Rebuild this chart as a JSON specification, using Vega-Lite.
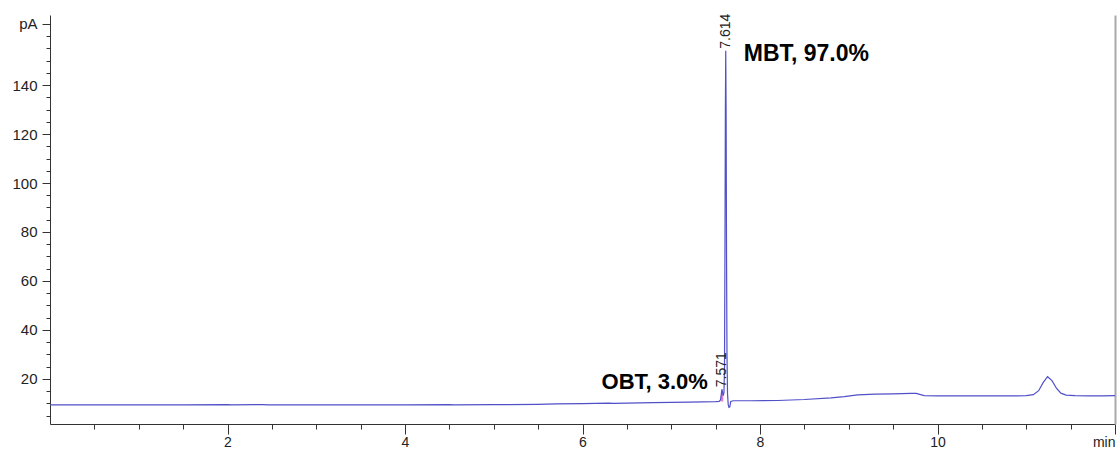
{
  "$schema": "https://vega.github.io/schema/vega-lite/v6.json",
  "width": 1065,
  "height": 409,
  "autosize": {"type": "none"},
  "padding": {"top": 15, "left": 50, "right": 3, "bottom": 26},
  "background": "white",
  "config": {
    "view": {"stroke": null},
    "font": "Liberation Sans",
    "axis": {"grid": false, "domainColor": "#333", "tickColor": "#333", "labelColor": "#222", "labelFont": "Liberation Sans", "domainWidth": 1, "tickWidth": 1}
  },
  "datasets": {
    "trace": [
      {"time": 0.0, "signal": 9.4}, {"time": 0.5, "signal": 9.4}, {"time": 1.0, "signal": 9.4}, {"time": 1.5, "signal": 9.4},
      {"time": 2.0, "signal": 9.5}, {"time": 2.05, "signal": 9.4}, {"time": 2.4, "signal": 9.5}, {"time": 2.45, "signal": 9.4},
      {"time": 3.0, "signal": 9.4}, {"time": 3.5, "signal": 9.4}, {"time": 4.0, "signal": 9.4}, {"time": 4.5, "signal": 9.5},
      {"time": 4.55, "signal": 9.4}, {"time": 5.0, "signal": 9.5}, {"time": 5.5, "signal": 9.6}, {"time": 5.7, "signal": 9.8},
      {"time": 6.0, "signal": 9.9}, {"time": 6.3, "signal": 10.1}, {"time": 6.35, "signal": 10.0}, {"time": 6.8, "signal": 10.3},
      {"time": 7.2, "signal": 10.5}, {"time": 7.5, "signal": 10.7}, {"time": 7.54, "signal": 10.8}, {"time": 7.555, "signal": 11.5},
      {"time": 7.563, "signal": 13.5}, {"time": 7.571, "signal": 15.8}, {"time": 7.578, "signal": 14.5}, {"time": 7.586, "signal": 13.2},
      {"time": 7.594, "signal": 14.5}, {"time": 7.6, "signal": 25}, {"time": 7.605, "signal": 70}, {"time": 7.61, "signal": 130},
      {"time": 7.614, "signal": 154}, {"time": 7.618, "signal": 130}, {"time": 7.623, "signal": 70}, {"time": 7.628, "signal": 30},
      {"time": 7.634, "signal": 14}, {"time": 7.642, "signal": 9.5}, {"time": 7.65, "signal": 8.4}, {"time": 7.66, "signal": 8.6},
      {"time": 7.67, "signal": 10.8}, {"time": 7.7, "signal": 11.1}, {"time": 7.9, "signal": 11.1}, {"time": 8.2, "signal": 11.2},
      {"time": 8.5, "signal": 11.6}, {"time": 8.8, "signal": 12.3}, {"time": 8.95, "signal": 12.8}, {"time": 9.1, "signal": 13.5},
      {"time": 9.3, "signal": 13.8}, {"time": 9.5, "signal": 13.9}, {"time": 9.7, "signal": 14.1}, {"time": 9.76, "signal": 14.1},
      {"time": 9.85, "signal": 13.2}, {"time": 10.0, "signal": 13.1}, {"time": 10.3, "signal": 13.1}, {"time": 10.6, "signal": 13.1},
      {"time": 10.9, "signal": 13.1}, {"time": 11.0, "signal": 13.2}, {"time": 11.08, "signal": 13.6}, {"time": 11.14, "signal": 15.2},
      {"time": 11.19, "signal": 18.5}, {"time": 11.24, "signal": 20.9}, {"time": 11.29, "signal": 19.3}, {"time": 11.34, "signal": 16.2},
      {"time": 11.39, "signal": 14.2}, {"time": 11.45, "signal": 13.4}, {"time": 11.55, "signal": 13.2}, {"time": 11.7, "signal": 13.1},
      {"time": 11.85, "signal": 13.1}, {"time": 12.0, "signal": 13.2}
    ],
    "integration": [
      {"time": 7.555, "signal": 11.5, "base": 10.8}, {"time": 7.563, "signal": 13.5, "base": 10.8},
      {"time": 7.571, "signal": 15.8, "base": 10.8}, {"time": 7.578, "signal": 14.5, "base": 10.8},
      {"time": 7.586, "signal": 13.2, "base": 10.8}
    ],
    "peaks": [
      {"time": 7.571, "signal": 15.8, "rt": "7.571", "name": "OBT, 3.0%"},
      {"time": 7.614, "signal": 154, "rt": "7.614", "name": "MBT, 97.0%"}
    ]
  },
  "layer": [
    {
      "data": {"name": "integration"},
      "mark": {"type": "area", "color": "#e060c0", "opacity": 0.8},
      "encoding": {
        "x": {"field": "time", "type": "quantitative", "axis": null},
        "y": {"field": "signal", "type": "quantitative", "axis": null},
        "y2": {"field": "base"}
      }
    },
    {
      "data": {"name": "trace"},
      "mark": {"type": "line", "color": "#5050c8", "strokeWidth": 1.2},
      "encoding": {
        "x": {"field": "time", "type": "quantitative", "scale": {"domain": [0, 12], "nice": false},
          "axis": {"values": [2, 4, 6, 8, 10, 12], "labelExpr": "datum.value == 12 ? 'min' : datum.label", "labelFlush": true, "tickSize": 10, "labelFontSize": 14, "labelPadding": 1, "title": null}},
        "y": {"field": "signal", "type": "quantitative", "scale": {"domain": [1.6, 168.6], "nice": false, "zero": false},
          "axis": {"values": [20, 40, 60, 80, 100, 120, 140, 165], "labelExpr": "datum.value == 165 ? 'pA' : datum.label", "tickSize": 8, "labelFontSize": 15, "labelPadding": 5, "title": null}}
      }
    },
    {
      "data": {"name": "peaks"},
      "mark": {"type": "text", "angle": 270, "align": "left", "baseline": "middle", "dx": 2, "fontSize": 14, "color": "#222"},
      "encoding": {
        "x": {"field": "time", "type": "quantitative",
          "axis": {"orient": "bottom", "values": [0.5, 1, 1.5, 2, 2.5, 3, 3.5, 4, 4.5, 5, 5.5, 6, 6.5, 7, 7.5, 8, 8.5, 9, 9.5, 10, 10.5, 11, 11.5], "labels": false, "tickSize": 5, "domain": false, "title": null}},
        "y": {"field": "signal", "type": "quantitative",
          "axis": {"orient": "left", "values": [5, 10, 15, 20, 25, 30, 35, 40, 45, 50, 55, 60, 65, 70, 75, 80, 85, 90, 95, 100, 105, 110, 115, 120, 125, 130, 135, 140, 145, 150, 155, 160], "labels": false, "tickSize": 4, "domain": false, "title": null}},
        "text": {"field": "rt"}
      }
    },
    {
      "data": {"name": "peaks"},
      "transform": [{"filter": "datum.rt == '7.614'"}],
      "mark": {"type": "text", "align": "left", "baseline": "alphabetic", "dx": 18, "dy": 10, "fontSize": 23, "fontWeight": "bold", "color": "#000"},
      "encoding": {
        "x": {"field": "time", "type": "quantitative", "axis": null},
        "y": {"field": "signal", "type": "quantitative", "axis": {"orient": "right", "ticks": false, "labels": false, "domainColor": "#aaa", "domainWidth": 2, "title": null}},
        "text": {"field": "name"}
      }
    },
    {
      "data": {"name": "peaks"},
      "transform": [{"filter": "datum.rt == '7.571'"}],
      "mark": {"type": "text", "align": "right", "baseline": "alphabetic", "dx": -14, "dy": 0, "fontSize": 22, "fontWeight": "bold", "color": "#000"},
      "encoding": {
        "x": {"field": "time", "type": "quantitative", "axis": null},
        "y": {"field": "signal", "type": "quantitative", "axis": null},
        "text": {"field": "name"}
      }
    }
  ],
  "resolve": {"axis": {"x": "independent", "y": "independent"}}
}
